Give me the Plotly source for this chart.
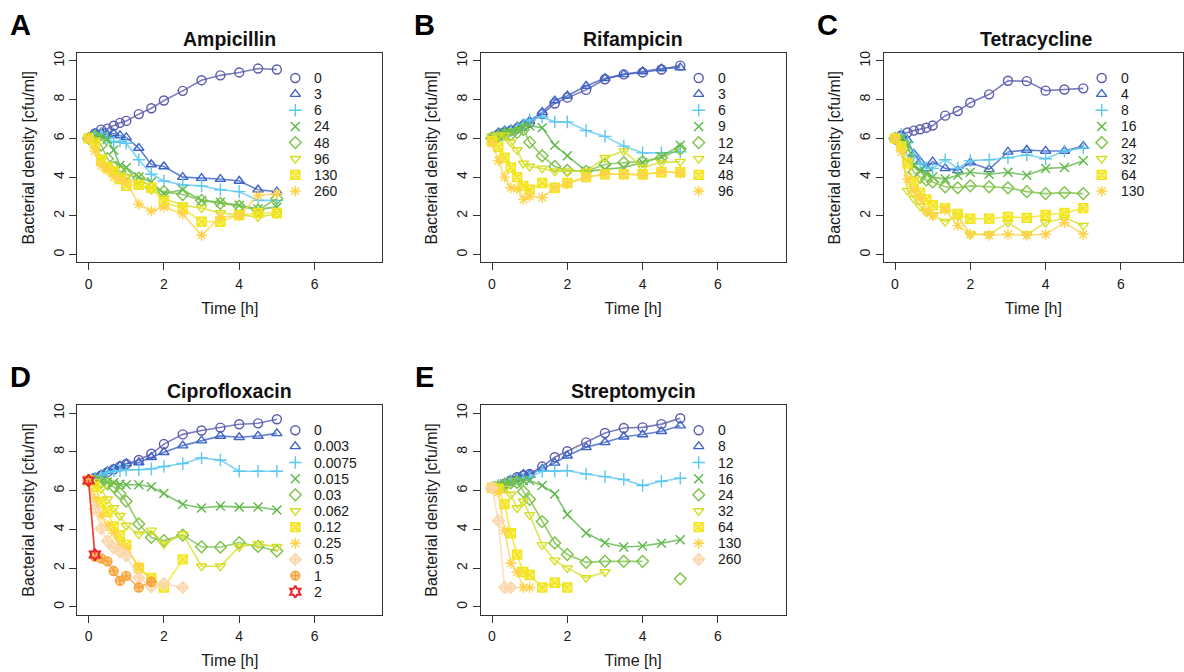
import plotly.graph_objects as go

# ---- sampling times [h] shared by all experiments ----
TIME = [0, 1/6, 2/6, 3/6, 4/6, 5/6, 1, 4/3, 5/3, 2, 2.5, 3, 3.5, 4, 4.5, 5]

# ---- Ampicillin (log10 cfu/ml) ----
amp_doses = ["0", "3", "6", "24", "48", "96", "130", "260"]
amp_0 = [6.0, 6.25, 6.45, 6.5, 6.65, 6.8, 6.9, 7.25, 7.55, 7.95, 8.45, 9.0, 9.25, 9.4, 9.6, 9.55]
amp_3 = [6.0, 6.25, 6.3, 6.2, 6.25, 6.15, 6.05, 5.5, 4.65, 4.55, 4.0, 3.95, 3.9, 3.8, 3.35, 3.25]
amp_6 = [6.0, 6.15, 6.25, 6.0, 5.8, 5.85, 5.75, 4.9, 4.15, 3.8, 3.6, 3.55, 3.35, 3.25, 2.8, 2.8]
amp_24 = [6.0, 6.1, 6.1, 5.95, 5.4, 4.6, 4.5, 4.0, 3.75, 3.15, 3.35, 2.8, 2.7, 2.55, 2.35, 2.45]
amp_48 = [6.0, 6.1, 5.65, 4.95, 4.5, 4.3, 4.15, 3.95, 3.45, 3.25, 3.1, 2.8, 2.65, 2.5, 2.3, 2.9]
amp_96 = [6.0, 5.9, 5.0, 4.6, 4.3, 4.1, 4.0, 3.6, 3.4, 2.9, 2.55, 2.4, 2.15, 2.05, 1.95, 2.1]
amp_130 = [6.0, 5.7, 4.9, 4.5, 4.3, 3.9, 3.55, 3.6, 3.45, 2.7, 2.4, 1.7, 1.7, 2.05, 2.15, 2.15]
amp_260 = [6.0, 5.35, 4.6, 4.35, 4.0, 3.9, 3.75, 2.6, 2.25, 2.45, 2.1, 1.0, 1.95, 2.0, 3.05, 3.15]

# ---- Rifampicin ----
rif_doses = ["0", "3", "6", "9", "12", "24", "48", "96"]
rif_0 = [6.05, 6.2, 6.3, 6.4, 6.5, 6.65, 6.8, 7.25, 7.8, 8.1, 8.5, 9.05, 9.3, 9.4, 9.55, 9.75]
rif_3 = [6.05, 6.3, 6.4, 6.45, 6.6, 6.75, 6.9, 7.35, 7.95, 8.2, 8.7, 9.1, 9.3, 9.45, 9.6, 9.65]
rif_6 = [6.05, 6.15, 6.3, 6.4, 6.5, 6.7, 6.95, 7.1, 6.85, 6.85, 6.4, 6.1, 5.6, 5.25, 5.25, 5.3]
rif_9 = [6.0, 6.1, 6.3, 6.35, 6.45, 6.6, 6.65, 6.55, 5.65, 5.1, 4.3, 4.4, 4.5, 4.75, 5.05, 5.65]
rif_12 = [6.0, 6.1, 6.2, 6.2, 6.3, 6.45, 5.8, 5.1, 4.55, 4.35, 4.3, 4.65, 4.75, 4.8, 5.0, 5.45]
rif_24 = [6.1, 6.15, 6.15, 5.8, 5.4, 4.7, 4.55, 4.45, 4.3, 4.3, 4.3, 5.0, 5.35, 4.5, 4.75, 4.8]
rif_48 = [5.85, 5.55, 5.0, 4.5, 4.0, 3.55, 3.35, 3.7, 3.45, 3.7, 4.0, 4.15, 4.15, 4.15, 4.25, 4.25]
rif_96 = [5.75, 4.85, 4.0, 3.45, 3.4, 2.85, 3.0, 2.95, 3.45, 3.65, 4.0, 4.15, 4.15, 4.1, 4.3, 4.2]

# ---- Tetracycline ----
tet_doses = ["0", "4", "8", "16", "24", "32", "64", "130"]
tet_0 = [6.0, 6.15, 6.3, 6.4, 6.47, 6.55, 6.66, 7.17, 7.41, 7.84, 8.27, 8.97, 8.95, 8.46, 8.52, 8.58]
tet_4 = [6.0, 6.15, 5.9, 5.2, 4.8, 4.45, 4.8, 4.45, 4.35, 4.75, 4.4, 5.3, 5.4, 5.35, 5.35, 5.6]
tet_8 = [6.0, 6.2, 5.8, 5.15, 4.7, 4.5, 4.45, 4.9, 4.45, 4.85, 4.9, 5.0, 5.15, 4.95, 5.35, 5.5]
tet_16 = [6.0, 5.95, 5.65, 4.6, 4.35, 4.2, 4.0, 3.9, 4.1, 4.25, 4.15, 4.25, 4.1, 4.45, 4.5, 4.85]
tet_24 = [6.0, 5.85, 5.1, 4.25, 4.0, 3.85, 3.75, 3.5, 3.45, 3.55, 3.5, 3.45, 3.25, 3.15, 3.2, 3.15]
tet_32 = [6.0, 5.5, 3.3, 2.9, 2.5, 2.2, 2.05, 1.7, 2.0, 1.05, 1.05, 1.65, 1.05, 1.65, 1.9, 1.5]
tet_64 = [6.0, 5.6, 4.7, 3.75, 3.2, 2.85, 2.55, 2.4, 2.1, 1.85, 1.85, 1.95, 1.9, 2.05, 2.15, 2.4]
tet_130 = [6.0, 5.3, 3.9, 3.3, 2.9, 2.25, 2.0, 2.3, 1.5, 1.05, 1.0, 1.05, 1.0, 1.05, 1.65, 1.05]

# ---- Ciprofloxacin ----
cip_doses = ["0", "0.003", "0.0075", "0.015", "0.03", "0.062", "0.12", "0.25", "0.5", "1", "2"]
cip_0 = [6.52, 6.65, 6.78, 6.95, 7.1, 7.25, 7.38, 7.58, 7.9, 8.4, 8.9, 9.1, 9.25, 9.42, 9.47, 9.68]
cip_0003 = [6.52, 6.65, 6.82, 7.0, 7.12, 7.28, 7.4, 7.45, 7.72, 7.98, 8.32, 8.58, 8.82, 8.75, 8.82, 8.95]
cip_00075 = [6.52, 6.65, 6.78, 6.92, 7.0, 7.03, 7.07, 7.08, 7.12, 7.24, 7.4, 7.68, 7.58, 7.0, 7.0, 7.0]
cip_0015 = [6.52, 6.5, 6.5, 6.45, 6.4, 6.33, 6.3, 6.3, 6.2, 5.85, 5.3, 5.1, 5.2, 5.15, 5.15, 5.0]
cip_003 = [6.52, 6.5, 6.45, 6.35, 6.2, 5.85, 5.45, 4.28, 3.58, 3.42, 3.7, 3.1, 3.08, 3.32, 3.12, 2.88]
cip_0062 = [6.52, 6.45, 6.1, 5.55, 5.1, 4.7, 4.2, 3.75, 3.95, 3.25, 3.75, 2.1, 2.1, 3.1, 3.25, 3.1]
cip_012 = [6.52, 6.2, 5.4, 4.9, 4.15, 3.7, 3.2, 2.0, 1.5, 1.0, 2.45]
cip_025 = [6.52, 5.6, 4.7, 4.2, 3.8, 3.2, 3.0, 2.1, 1.35]
cip_05 = [6.52, 5.05, 4.05, 3.4, 3.05, 2.85, 2.65, 1.5, 1.05, 1.2, 1.0]
cip_1 = [6.52, 2.6, 2.5, 2.35, 1.85, 1.35, 1.6, 1.0, 1.3]
cip_2 = [6.52, 2.7]

# ---- Streptomycin ----
str_doses = ["0", "8", "12", "16", "24", "32", "64", "130", "260"]
str_0 = [6.15, 6.2, 6.35, 6.52, 6.69, 6.78, 6.86, 7.24, 7.72, 8.03, 8.49, 8.97, 9.23, 9.26, 9.43, 9.73]
str_8 = [6.15, 6.2, 6.35, 6.5, 6.65, 6.85, 6.83, 7.12, 7.43, 7.8, 8.23, 8.49, 8.78, 8.89, 9.06, 9.35]
str_12 = [6.15, 6.26, 6.38, 6.5, 6.57, 6.6, 6.69, 7.0, 7.0, 7.03, 6.86, 6.72, 6.57, 6.26, 6.48, 6.64]
str_16 = [6.15, 6.26, 6.35, 6.43, 6.48, 6.52, 6.52, 6.26, 5.83, 4.77, 3.81, 3.31, 3.09, 3.14, 3.29, 3.46]
str_24 = [6.15, 6.2, 6.3, 6.4, 6.42, 5.95, 5.55, 4.4, 3.3, 2.7, 2.3, 2.35, 2.35, 2.35, None, 1.45]
str_32 = [6.15, 6.15, 6.1, 5.8, 5.1, 5.45, 4.75, 3.2, 2.4, 2.0, 1.5, 1.8]
str_64 = [6.15, 6.1, 5.3, 3.8, 2.7, 1.8, 1.65, 1.0, 1.25, 1.0]
str_130 = [6.15, 5.9, 3.95, 2.25, 1.8, 1.0, 1.0]
str_260 = [6.15, 4.45, 1.0, 1.0]

# ---- styling: one colour / symbol per dose rank ----
PALETTE = ["#5A5AAE", "#3D63C7", "#5BC8F0", "#5DB848", "#7DC246", "#D6DE22",
           "#F2E51A", "#FFD24A", "#FCD6AC", "#F7A33B", "#E8262C"]
SYMBOLS = ["circle-open", "triangle-up-open", "cross-thin-open", "x-thin-open",
           "diamond-open", "triangle-down-open", "square-x", "asterisk-open",
           "diamond-cross", "circle-cross", "hexagram-open"]
# symbols drawn with a translucent fill (the crossed shapes)
FILLED = {"square-x", "diamond-cross", "circle-cross"}
MSIZE, MLINE = 9, 1.4

panels = [
    dict(letter="A", title="Ampicillin", row=0, col=0, labels=amp_doses,
         series=[amp_0, amp_3, amp_6, amp_24, amp_48, amp_96, amp_130, amp_260]),
    dict(letter="B", title="Rifampicin", row=0, col=1, labels=rif_doses,
         series=[rif_0, rif_3, rif_6, rif_9, rif_12, rif_24, rif_48, rif_96]),
    dict(letter="C", title="Tetracycline", row=0, col=2, labels=tet_doses,
         series=[tet_0, tet_4, tet_8, tet_16, tet_24, tet_32, tet_64, tet_130]),
    dict(letter="D", title="Ciprofloxacin", row=1, col=0, labels=cip_doses,
         series=[cip_0, cip_0003, cip_00075, cip_0015, cip_003, cip_0062,
                 cip_012, cip_025, cip_05, cip_1, cip_2]),
    dict(letter="E", title="Streptomycin", row=1, col=1, labels=str_doses,
         series=[str_0, str_8, str_12, str_16, str_24, str_32, str_64, str_130, str_260]),
]

# ---- page geometry (pixels) ----
W, H = 1184, 672
COL_LEFT = [77.3, 480.7, 883.7]
ROW_TOP = [51.2, 404.5]
BOX_W, BOX_H = 305, 210
XMIN, XMAX = -0.3, 7.8
YMIN, YMAX = -0.4, 10.4
LEG_DX, LEG_DY, LEG_STEP = 218, 25, 16.2

FONT = "Liberation Sans, Arial, Helvetica, sans-serif"
INK = "#1a1a1a"
BOXC = "#333333"


def rgba(hex_color, a):
    h = hex_color.lstrip("#")
    r, g, b = int(h[0:2], 16), int(h[2:4], 16), int(h[4:6], 16)
    return f"rgba({r},{g},{b},{a})"


def marker_style(idx):
    """Marker dict for one or several dose ranks."""
    idx = idx if isinstance(idx, list) else [idx]
    sym = [SYMBOLS[i] for i in idx]
    fill = [rgba(PALETTE[i], 0.55) if SYMBOLS[i] in FILLED else PALETTE[i] for i in idx]
    edge = [PALETTE[i] for i in idx]
    width = [2.0 if SYMBOLS[i] == "hexagram-open" else MLINE for i in idx]
    if len(idx) == 1:
        sym, fill, edge, width = sym[0], fill[0], edge[0], width[0]
    return dict(symbol=sym, size=MSIZE, color=fill, line=dict(width=width, color=edge))


fig = go.Figure()
layout = dict(
    width=W, height=H, margin=dict(l=0, r=0, t=0, b=0),
    paper_bgcolor="white", plot_bgcolor="white", showlegend=False,
    font=dict(family=FONT, color=INK, size=14),
)
annotations = []

for k, p in enumerate(panels):
    left = COL_LEFT[p["col"]]
    right = min(left + BOX_W, W - 1)
    top = ROW_TOP[p["row"]]
    bottom = top + BOX_H
    sfx = "" if k == 0 else str(k + 1)
    xmax = XMIN + (XMAX - XMIN) * (right - left) / BOX_W

    layout["xaxis" + sfx] = dict(
        domain=[left / W, right / W], range=[XMIN, xmax], anchor="y" + sfx,
        tickvals=[0, 2, 4, 6], ticks="outside", ticklen=7, tickwidth=1, tickcolor=BOXC,
        showline=True, mirror=True, linecolor=BOXC, linewidth=1,
        showgrid=False, zeroline=False, tickfont=dict(size=14, color=INK),
        ticklabelstandoff=2,
        title=dict(text="Time [h]", font=dict(size=16, color=INK), standoff=11),
    )
    layout["yaxis" + sfx] = dict(
        domain=[1 - bottom / H, 1 - top / H], range=[YMIN, YMAX], anchor="x" + sfx,
        tickvals=[0, 2, 4, 6, 8, 10], ticks="outside", ticklen=7, tickwidth=1,
        tickcolor=BOXC, tickangle=-90,
        showline=True, mirror=True, linecolor=BOXC, linewidth=1,
        showgrid=False, zeroline=False, tickfont=dict(size=14, color=INK),
        ticklabelstandoff=0,
        title=dict(text="Bacterial density [cfu/ml]", font=dict(size=16, color=INK),
                   standoff=12),
    )

    for i, vals in enumerate(p["series"]):
        fig.add_trace(go.Scatter(
            x=TIME[:len(vals)], y=vals, mode="lines+markers",
            xaxis="x" + sfx, yaxis="y" + sfx, name=p["labels"][i],
            connectgaps=False, hoverinfo="x+y+name",
            line=dict(color=rgba(PALETTE[i], 0.8), width=1.6),
            marker=marker_style(i),
        ))

    # key: symbols in a column with dose labels beside them
    n = len(p["labels"])
    lsfx = str(k + 6)
    lx0 = left + LEG_DX - 10
    layout["xaxis" + lsfx] = dict(domain=[lx0 / W, (lx0 + 70) / W], range=[-10, 60],
                                  anchor="y" + lsfx, visible=False, fixedrange=True)
    ly0 = top + LEG_DY - LEG_STEP / 2
    ly1 = ly0 + n * LEG_STEP
    layout["yaxis" + lsfx] = dict(domain=[1 - ly1 / H, 1 - ly0 / H], range=[n - 0.5, -0.5],
                                  anchor="x" + lsfx, visible=False, fixedrange=True)
    fig.add_trace(go.Scatter(
        x=[0] * n, y=list(range(n)), mode="markers", hoverinfo="skip",
        xaxis="x" + lsfx, yaxis="y" + lsfx, marker=marker_style(list(range(n))),
    ))
    for i, lab in enumerate(p["labels"]):
        annotations.append(dict(
            text=lab, x=17, y=i, xref="x" + lsfx, yref="y" + lsfx,
            xanchor="left", yanchor="middle", showarrow=False,
            font=dict(size=14, color=INK),
        ))

    # panel title and panel letter
    annotations.append(dict(
        text="<b>%s</b>" % p["title"], x=(left + BOX_W / 2) / W, y=1 - (top - 14.5) / H,
        xref="paper", yref="paper", xanchor="center", yanchor="middle",
        showarrow=False, font=dict(size=19.5, color="#111111"),
    ))
    annotations.append(dict(
        text="<b>%s</b>" % p["letter"], x=(left - 56.5) / W, y=1 - (top - 28) / H,
        xref="paper", yref="paper", xanchor="center", yanchor="middle",
        showarrow=False, font=dict(size=29, color="#000000"),
    ))

layout["annotations"] = annotations
fig.update_layout(**layout)
fig.write_html("out.html")
